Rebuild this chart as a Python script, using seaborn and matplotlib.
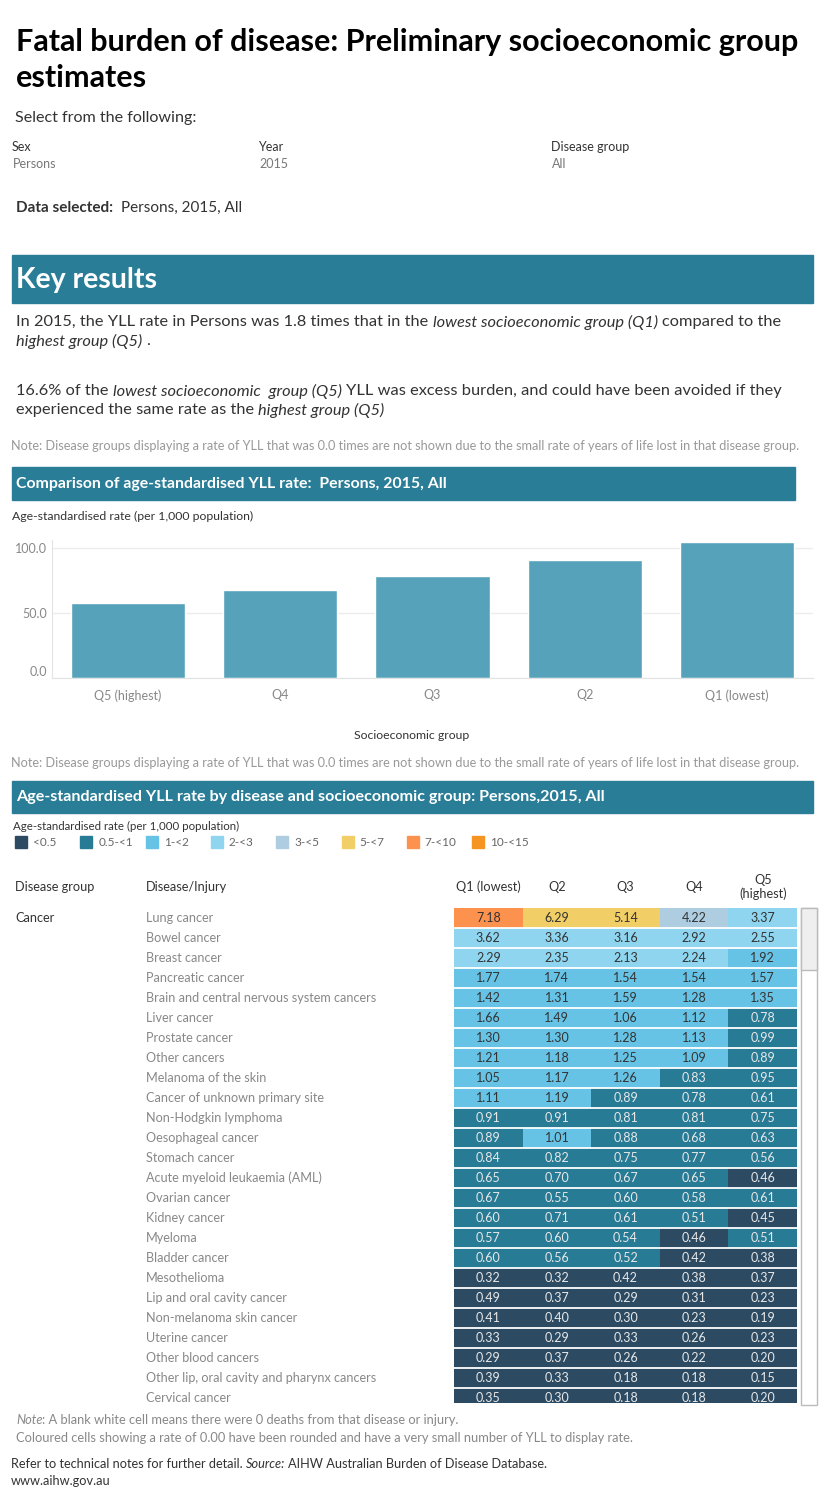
import seaborn as sns
import pandas as pd
import matplotlib.pyplot as plt
import numpy as np
from matplotlib.colors import ListedColormap, BoundaryNorm
from matplotlib.patches import Rectangle

# data
groups = ["Q5 (highest)", "Q4", "Q3", "Q2", "Q1 (lowest)"]
group_rates = [57.7, 67.7, 78.5, 90.8, 104.6]

quintiles = ["Q1 (lowest)", "Q2", "Q3", "Q4", "Q5\n(highest)"]
diseases = [
    "Lung cancer", "Bowel cancer", "Breast cancer", "Pancreatic cancer",
    "Brain and central nervous system cancers", "Liver cancer", "Prostate cancer",
    "Other cancers", "Melanoma of the skin", "Cancer of unknown primary site",
    "Non-Hodgkin lymphoma", "Oesophageal cancer", "Stomach cancer",
    "Acute myeloid leukaemia (AML)", "Ovarian cancer", "Kidney cancer", "Myeloma",
    "Bladder cancer", "Mesothelioma", "Lip and oral cavity cancer",
    "Non-melanoma skin cancer", "Uterine cancer", "Other blood cancers",
    "Other lip, oral cavity and pharynx cancers", "Cervical cancer",
]
q1 = [7.18, 3.62, 2.29, 1.77, 1.42, 1.66, 1.30, 1.21, 1.05, 1.11, 0.91, 0.89, 0.84,
      0.65, 0.67, 0.60, 0.57, 0.60, 0.32, 0.49, 0.41, 0.33, 0.29, 0.39, 0.35]
q2 = [6.29, 3.36, 2.35, 1.74, 1.31, 1.49, 1.30, 1.18, 1.17, 1.19, 0.91, 1.01, 0.82,
      0.70, 0.55, 0.71, 0.60, 0.56, 0.32, 0.37, 0.40, 0.29, 0.37, 0.33, 0.30]
q3 = [5.14, 3.16, 2.13, 1.54, 1.59, 1.06, 1.28, 1.25, 1.26, 0.89, 0.81, 0.88, 0.75,
      0.67, 0.60, 0.61, 0.54, 0.52, 0.42, 0.29, 0.30, 0.33, 0.26, 0.18, 0.18]
q4 = [4.22, 2.92, 2.24, 1.54, 1.28, 1.12, 1.13, 1.09, 0.83, 0.78, 0.81, 0.68, 0.77,
      0.65, 0.58, 0.51, 0.46, 0.42, 0.38, 0.31, 0.23, 0.26, 0.22, 0.18, 0.18]
q5 = [3.37, 2.55, 1.92, 1.57, 1.35, 0.78, 0.99, 0.89, 0.95, 0.61, 0.75, 0.63, 0.56,
      0.46, 0.61, 0.45, 0.51, 0.38, 0.37, 0.23, 0.19, 0.23, 0.20, 0.15, 0.20]

legend_labels = ["<0.5", "0.5-<1", "1-<2", "2-<3", "3-<5", "5-<7", "7-<10", "10-<15"]
band_colors = ["#2c4b63", "#287b95", "#67c3e5", "#8fd5ef", "#aecde0",
               "#f2cf66", "#fd914e", "#f59420"]
# the dashboard colours the 3.x cells like the 2-<3 band, so the edges follow the picture
band_edges = [0, 0.5, 1, 2, 4, 5, 7, 10, 15]

TEAL = "#2a7d96"
BAR = "#56a2ba"
DARK = "#333333"
GREY = "#888888"

sns.set_style("white")
plt.rcParams["font.family"] = ["Lato", "DejaVu Sans"]

W, H = 825, 1500
fig = plt.figure(figsize=(8.25, 15), dpi=100)
renderer = fig.canvas.get_renderer()


def fx(px):
    return px / W


def fy(py):
    return 1 - py / H


def banner(x0, x1, y0, y1):
    fig.patches.append(Rectangle((fx(x0), fy(y1)), fx(x1) - fx(x0), (y1 - y0) / H,
                                 transform=fig.transFigure, color=TEAL, zorder=0))


def space_width(**kw):
    a = fig.text(0, 0, "x x", **kw)
    b = fig.text(0, 0, "xx", **kw)
    w = a.get_window_extent(renderer).width - b.get_window_extent(renderer).width
    a.remove()
    b.remove()
    return w


def rich(x, y, parts, size, color):
    # parts: (text, style, weight)
    xp = x
    for txt, style, weight in parts:
        kw = dict(fontsize=size, style=style, weight=weight, color=color)
        sw = space_width(**kw)
        lead = len(txt) - len(txt.lstrip(" "))
        trail = len(txt) - len(txt.rstrip(" "))
        xp += lead * sw
        t = fig.text(fx(xp), fy(y), txt.strip(" "), va="center", ha="left", **kw)
        xp += t.get_window_extent(renderer).width + trail * sw


# header text
fig.text(fx(16), fy(42), "Fatal burden of disease: Preliminary socioeconomic group",
         fontsize=22, weight="bold", color="black", va="center")
fig.text(fx(16), fy(78), "estimates", fontsize=22, weight="bold", color="black", va="center")
fig.text(fx(15), fy(118), "Select from the following:", fontsize=11.6, color=DARK, va="center")
for xp, lab, val in [(12, "Sex", "Persons"), (258, "Year", "2015"), (551, "Disease group", "All")]:
    fig.text(fx(xp), fy(147), lab, fontsize=9, color=DARK, va="center")
    fig.text(fx(xp + 1), fy(164), val, fontsize=9, color="#777777", va="center")
rich(16, 208, [("Data selected:", "normal", "bold"), ("  Persons, 2015, All", "normal", "normal")],
     11, DARK)

banner(12, 813, 255, 303)
fig.text(fx(16), fy(280), "Key results", fontsize=20.5, weight="bold", color="white", va="center")

BODY = 11.75
rich(16, 322, [("In 2015, the YLL rate in Persons was 1.8 times that in the ", "normal", "normal"),
               ("lowest socioeconomic group (Q1)", "italic", "normal"),
               (" compared to the", "normal", "normal")], BODY, DARK)
rich(16, 341, [("highest group (Q5)", "italic", "normal"), (" .", "normal", "normal")], BODY, DARK)
rich(16, 391, [("16.6% of the ", "normal", "normal"),
               ("lowest socioeconomic  group (Q5)", "italic", "normal"),
               (" YLL was excess burden, and could have been avoided if they", "normal", "normal")],
     BODY, DARK)
rich(16, 410, [("experienced the same rate as the ", "normal", "normal"),
               ("highest group (Q5)", "italic", "normal")], BODY, DARK)

note = ("Note: Disease groups displaying a rate of YLL that was 0.0 times are not shown "
        "due to the small rate of years of life lost in that disease group.")
fig.text(fx(11), fy(446), note, fontsize=9.2, color="#999999", va="center")

# bar chart
banner(12, 795, 467, 500)
fig.text(fx(16), fy(484), "Comparison of age-standardised YLL rate:  Persons, 2015, All",
         fontsize=11.4, weight="bold", color="white", va="center")
fig.text(fx(12), fy(516), "Age-standardised rate (per 1,000 population)", fontsize=8.8,
         color=DARK, va="center")

axb = fig.add_axes([fx(52), fy(678), fx(813) - fx(52), (678 - 540) / H])
sns.barplot(x=groups, y=group_rates, color=BAR, saturation=1, width=0.75, ax=axb)
axb.set_ylim(0, 106)
axb.set_xlim(-0.5, 4.5)
axb.set_yticks([0, 50, 100])
axb.set_yticklabels([f"{v:.1f}" for v in [0, 50, 100]])
axb.set_xticks(np.arange(-0.5, 5, 1), minor=True)
axb.tick_params(axis="both", which="major", length=0, labelsize=9, labelcolor="#888888")
axb.tick_params(axis="x", which="major", pad=8)
axb.tick_params(axis="x", which="minor", length=5, color="#dddddd")
axb.yaxis.grid(True, color="#ececec", lw=1)
axb.set_axisbelow(True)
for s in ["top", "right"]:
    axb.spines[s].set_visible(False)
for s in ["left", "bottom"]:
    axb.spines[s].set_color("#e3e3e3")
axb.set_xlabel("")
axb.set_ylabel("")
# tableau lifts the bottom tick label inside the pane
axb.get_yticklabels()[0].set_va("bottom")
fig.text(fx(412), fy(736), "Socioeconomic group", fontsize=8.8, color=DARK, ha="center", va="center")
fig.text(fx(11), fy(763), note, fontsize=9.2, color="#999999", va="center")

# heat table
banner(12, 813, 781, 813)
fig.text(fx(16), fy(797), "Age-standardised YLL rate by disease and socioeconomic group: Persons,2015, All",
         fontsize=11.6, weight="bold", color="white", va="center")
fig.text(fx(13), fy(826), "Age-standardised rate (per 1,000 population)", fontsize=8.3,
         color=DARK, va="center")
for i, (lab, col) in enumerate(zip(legend_labels, band_colors)):
    lx = 15 + 65.3 * i
    fig.patches.append(Rectangle((fx(lx), fy(848)), 12 / W, 12 / H,
                                 transform=fig.transFigure, color=col))
    fig.text(fx(lx + 18), fy(842), lab, fontsize=8.5, color="#666666", va="center")

fig.text(fx(15), fy(887), "Disease group", fontsize=9.2, color=DARK, va="center")
fig.text(fx(146), fy(887), "Disease/Injury", fontsize=9.2, color=DARK, va="center")
fig.text(fx(15), fy(918), "Cancer", fontsize=9.2, color=DARK, va="center")

table = pd.DataFrame({"Q1": q1, "Q2": q2, "Q3": q3, "Q4": q4, "Q5": q5}, index=diseases)
cmap = ListedColormap(band_colors)
norm = BoundaryNorm(band_edges, cmap.N)

axh = fig.add_axes([fx(454), fy(1403), fx(797) - fx(454), (1403 - 908) / H])
sns.heatmap(table, ax=axh, cmap=cmap, norm=norm, cbar=False, annot=True, fmt=".2f",
            annot_kws={"fontsize": 9}, xticklabels=False, yticklabels=diseases, linewidths=0)
for t, v in zip(axh.texts, table.values.ravel()):
    t.set_color("#e8e8e8" if v < 1 else DARK)
    t.set_clip_on(True)
for i in range(1, len(diseases)):
    axh.axhline(i, color="white", lw=1.3)
axh.set_ylim(24.75, 0)
axh.set_yticklabels(diseases, ha="left", color="#888888", fontsize=9.1)
axh.tick_params(axis="y", length=0, pad=(454 - 146) * 0.72)
axh.tick_params(axis="x", length=0)
axh.set_xlabel("")
axh.set_ylabel("")
for j, q in enumerate(quintiles):
    axh.text(j + 0.5, -1.05, q, ha="center", va="center", fontsize=9.2, color=DARK, clip_on=False)

# scroll bar
fig.patches.append(Rectangle((fx(801), fy(1405)), 16 / W, (1405 - 908) / H, transform=fig.transFigure,
                             facecolor="white", edgecolor="#bbbbbb", lw=1))
fig.patches.append(Rectangle((fx(801), fy(970)), 16 / W, (970 - 908) / H, transform=fig.transFigure,
                             facecolor="#efefef", edgecolor="#bbbbbb", lw=1))

# footer
rich(16, 1420, [("Note", "italic", "normal"),
                (": A blank white cell means there were 0 deaths from that disease or injury.", "normal", "normal")],
     9.25, GREY)
fig.text(fx(16), fy(1438), "Coloured cells showing a rate of 0.00 have been rounded and have a very "
         "small number of YLL to display rate.", fontsize=9.25, color=GREY, va="center")
rich(11, 1464, [("Refer to technical notes for further detail. ", "normal", "normal"),
                ("Source:", "italic", "normal"),
                (" AIHW Australian Burden of Disease Database.", "normal", "normal")], 9.2, DARK)
fig.text(fx(11), fy(1481), "www.aihw.gov.au", fontsize=9.2, color=DARK, va="center")

fig.savefig("out.png", dpi=100)
